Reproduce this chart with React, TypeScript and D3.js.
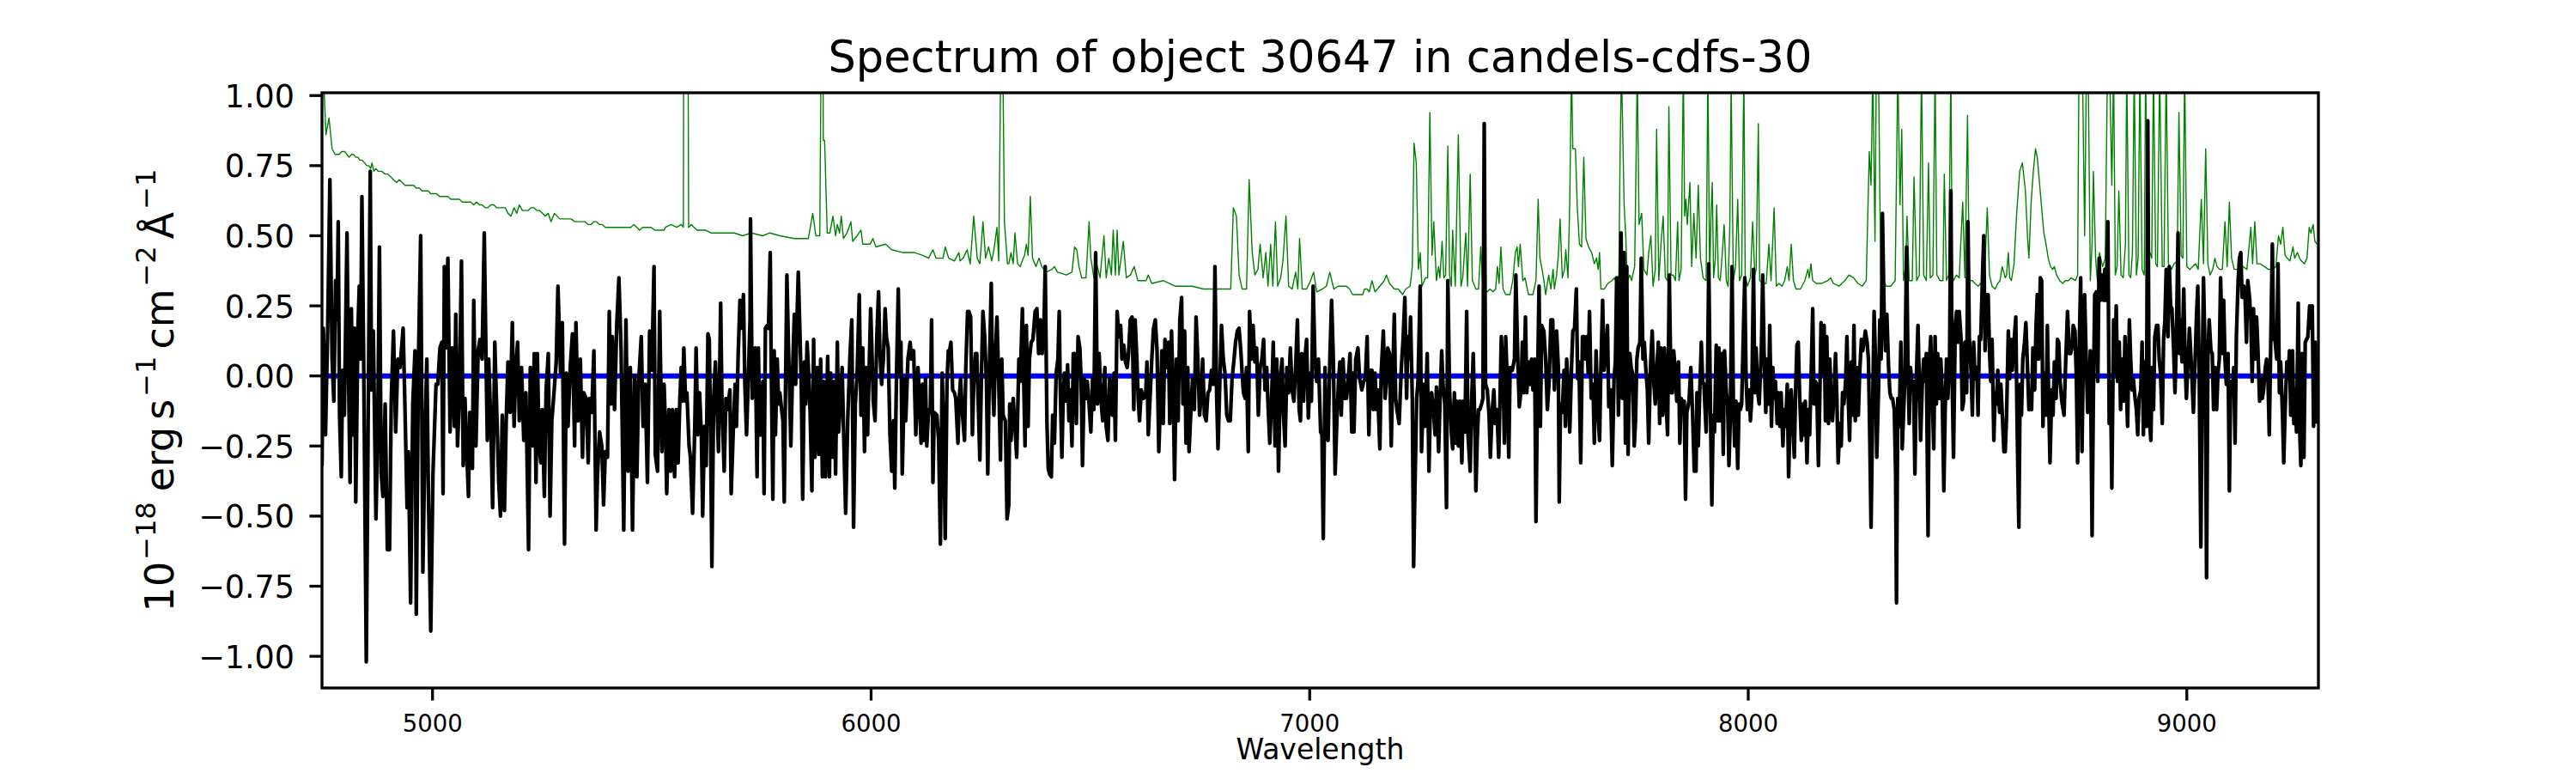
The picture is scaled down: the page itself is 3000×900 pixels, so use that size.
import React from 'react';
import * as d3 from 'd3';

type Pt = [number, number];

// flux (black)
const flux4750: Pt[] = [
  [4748,-0.32],[4751,0.17],[4756,-0.21],[4761,0.17],[4766,0.70],[4771,0.06],[4775,-0.09],[4779,0.34],[4782,0.20],[4785,0.55],
  [4788,-0.14],[4792,-0.36],[4795,0.02],[4799,-0.14],[4805,0.51],[4808,0.06],[4812,-0.38],[4815,0.24],[4818,-0.21],[4822,0.17],
  [4825,-0.45],[4830,0.17],[4833,0.32],[4836,0.06],[4839,0.64],[4843,0.06],[4849,-1.02],[4854,-0.01],[4858,0.73],[4861,-0.05],
  [4865,0.16],[4871,-0.51],[4875,-0.21],[4879,0.46],[4883,-0.35],[4887,-0.43],[4892,-0.10],[4897,-0.62],[4902,-0.62],[4906,-0.08],
  [4911,0.16],[4916,-0.20],[4921,0.06],[4926,0.03],[4929,0.09],[4933,0.17],[4937,-0.10],[4942,-0.47],[4945,-0.27],[4950,-0.81],
  [4955,-0.10],[4960,0.09],[4963,-0.85],[4968,0.06],[4973,0.50],[4978,-0.70],[4983,-0.21],[4987,0.06],[4991,-0.46],[4996,-0.91],
  [5001,-0.35],[5008,-0.03],[5012,-0.03],[5017,0.10],[5021,0.12],[5024,-0.42],[5027,0.39],[5031,0.10],[5035,0.42],[5040,-0.20],
  [5045,0.10],[5050,-0.18],[5053,0.22],[5057,-0.25],[5061,-0.09],[5066,0.41],[5070,-0.32],[5074,-0.08],[5078,-0.27],[5082,-0.43],
  [5085,-0.13],[5091,-0.33],[5094,0.27],[5099,-0.25],[5104,0.09],[5108,0.13],[5113,0.06],[5118,0.51],[5122,0.06],[5125,-0.23],
  [5128,0.06],[5133,-0.17],[5137,-0.47],[5142,0.12],[5146,-0.10],[5151,-0.38],[5155,-0.50],[5159,-0.14],[5164,-0.48],[5168,-0.16],
  [5172,0.05],[5177,-0.13],[5182,0.19],[5186,-0.18],[5190,0.03],[5194,0.12],[5198,-0.16],[5203,0.03],[5208,-0.23],[5213,-0.06],
  [5219,-0.62],[5223,0.03],[5228,-0.25],[5232,0.08],[5236,-0.38],[5239,0.08],[5243,-0.25],[5247,-0.31],[5250,-0.12],[5255,-0.43],
  [5259,-0.05],[5264,0.08],[5268,-0.50],[5272,-0.16],[5277,-0.06],[5282,0.05],[5286,0.32],[5292,0.01],[5296,0.19],[5301,-0.60],
  [5305,0.01],[5309,-0.18],[5314,0.03],[5319,0.15],[5324,-0.25],[5327,0.19],[5332,-0.16],[5337,0.06],[5342,-0.29],[5345,-0.06],
  [5350,-0.08],[5355,-0.31],[5358,-0.08],[5363,-0.13],[5368,0.09],[5373,-0.55],[5376,-0.36],[5381,-0.20],[5386,-0.25],[5390,-0.46],
  [5394,-0.27],[5399,-0.29],[5403,0.23],[5407,-0.10],[5410,0.14],[5415,-0.12],[5420,0.18],[5425,0.35],[5430,0.09],[5436,-0.55],
  [5441,0.20],[5446,-0.34],[5451,0.03],[5456,-0.55],[5461,0.00],[5466,-0.36],[5470,-0.02],[5476,0.14],[5480,-0.18],[5485,-0.03],
  [5490,-0.38],[5495,0.16],[5500,0.02],[5505,0.39],[5508,-0.28],[5513,-0.34],[5518,0.23],[5523,-0.27],[5528,-0.03],
];

const flux5530: Pt[] = [
  [5531,-0.18],[5534,-0.42],[5539,-0.12],[5543,-0.34],[5547,-0.12],[5552,-0.36],[5556,-0.12],[5560,-0.31],[5564,-0.08],[5567,0.03],
  [5570,-0.09],[5573,0.10],[5577,-0.09],[5580,-0.06],[5585,-0.25],[5588,-0.29],[5593,-0.49],[5598,-0.18],[5601,0.10],[5605,-0.21],
  [5609,-0.06],[5613,-0.21],[5616,-0.50],[5620,-0.18],[5624,-0.32],[5628,0.15],[5631,0.13],[5634,-0.21],[5637,-0.68],[5641,-0.08],
  [5645,0.05],[5648,-0.08],[5652,-0.27],[5657,0.26],[5660,-0.10],[5665,-0.34],[5669,-0.08],[5673,-0.12],[5678,-0.05],[5681,-0.42],
  [5686,-0.18],[5690,-0.03],[5693,-0.18],[5697,0.08],[5701,0.27],[5705,0.17],[5709,0.29],[5712,-0.02],[5716,-0.21],[5719,-0.06],
  [5724,0.20],[5725,0.56],[5729,-0.08],[5732,0.09],[5736,0.10],[5740,-0.36],[5743,0.10],[5746,-0.21],[5750,-0.21],[5753,-0.02],
  [5756,-0.42],[5759,0.17],[5763,0.18],[5766,0.17],[5770,0.44],[5772,0.08],[5776,-0.44],[5779,0.09],[5782,-0.21],[5786,0.06],
  [5789,-0.10],[5792,-0.06],[5796,-0.12],[5799,-0.16],[5802,-0.45],[5805,-0.02],[5808,0.36],[5812,0.08],[5817,-0.25],[5821,0.02],
  [5825,0.22],[5828,-0.03],[5831,0.20],[5834,0.37],[5838,0.14],[5841,-0.05],[5844,-0.44],[5848,0.05],[5851,-0.10],[5854,0.12],
  [5857,0.03],[5861,-0.13],[5865,-0.41],[5869,0.13],[5872,-0.29],[5877,0.03],[5881,-0.28],[5885,0.06],[5889,-0.36],[5892,-0.02],
  [5896,-0.36],[5901,0.07],[5905,-0.36],[5908,0.01],[5913,-0.29],[5916,-0.02],[5919,-0.35],[5923,0.12],[5926,-0.20],[5929,-0.12],
  [5934,0.03],[5937,-0.18],[5942,-0.49],[5947,-0.14],[5952,0.08],[5956,0.20],[5960,-0.54],[5964,-0.10],[5968,0.00],[5973,0.29],
  [5977,-0.14],[5981,0.10],[5985,-0.27],[5988,0.03],[5992,-0.21],[5996,0.05],[5999,0.24],[6002,0.08],[6005,-0.09],[6009,-0.16],
  [6013,0.14],[6017,0.30],[6020,0.09],[6024,-0.03],[6028,0.06],[6032,0.24],[6035,0.14],[6039,0.10],[6043,-0.21],[6047,-0.34],
  [6051,-0.16],[6054,-0.40],[6058,0.01],[6062,0.31],[6065,0.01],[6068,0.12],[6071,-0.35],[6076,-0.01],[6079,-0.16],[6084,0.06],
  [6089,0.12],[6092,0.06],[6097,0.09],[6102,-0.21],[6107,0.03],[6110,-0.08],[6114,-0.24],[6117,-0.03],[6120,-0.23],[6124,-0.01],
  [6127,-0.25],[6131,-0.12],[6135,-0.13],[6138,0.20],[6141,-0.38],[6144,-0.13],[6150,-0.14],[6154,-0.23],[6158,-0.60],[6162,0.01],
  [6165,-0.16],[6169,-0.58],[6173,-0.03],[6176,0.09],[6179,0.09],[6182,0.12],[6186,-0.05],[6190,-0.06],[6193,-0.08],[6198,-0.24],
  [6201,-0.08],[6204,-0.01],[6208,-0.13],[6213,-0.23],[6216,0.03],[6220,0.23],[6223,0.23],[6227,0.21],[6231,-0.21],[6234,-0.03],
  [6238,0.08],[6241,0.08],[6244,-0.08],[6248,-0.30],[6252,0.03],[6255,0.23],[6259,0.14],[6263,-0.02],[6266,-0.35],[6270,0.05],
  [6274,0.33],[6277,-0.02],[6280,-0.14],[6283,0.06],[6287,0.21],[6291,-0.02],[6295,-0.30],[6298,0.06],[6301,-0.14],[6306,-0.16],
  [6310,-0.51],
];

const flux6310: Pt[] = [
  [6314,-0.46],[6316,-0.10],[6319,-0.23],[6324,-0.08],[6328,-0.18],[6332,-0.29],[6337,0.06],[6340,-0.02],[6345,0.24],[6348,-0.02],
  [6351,-0.25],[6354,0.18],[6358,-0.18],[6361,0.06],[6365,0.12],[6369,0.13],[6374,0.23],[6378,0.24],[6382,0.08],[6386,0.20],
  [6390,0.08],[6394,0.17],[6397,0.39],[6401,-0.17],[6404,-0.33],[6407,-0.35],[6411,-0.36],[6414,-0.14],[6418,-0.24],[6422,0.01],
  [6426,0.06],[6429,0.23],[6431,-0.02],[6435,-0.29],[6438,-0.08],[6441,0.01],[6445,-0.09],[6448,0.04],[6451,-0.16],[6454,-0.05],
  [6458,-0.25],[6461,0.08],[6464,0.08],[6468,-0.17],[6472,0.14],[6476,0.10],[6479,-0.02],[6482,-0.32],[6486,-0.01],[6489,-0.08],
  [6493,-0.02],[6497,-0.10],[6501,-0.20],[6505,-0.01],[6508,-0.12],[6512,0.44],[6516,-0.10],[6520,0.08],[6524,-0.08],[6528,-0.16],
  [6533,0.03],[6536,-0.18],[6540,-0.23],[6544,-0.01],[6547,-0.02],[6550,-0.14],[6554,0.01],[6557,-0.23],[6561,0.23],[6565,0.14],
  [6569,0.18],[6572,0.06],[6576,0.11],[6580,0.05],[6584,0.03],[6587,0.08],[6591,0.20],[6595,0.21],[6599,-0.12],[6602,0.20],
  [6606,0.06],[6609,-0.08],[6612,-0.16],[6616,-0.05],[6621,-0.08],[6626,-0.07],[6629,0.05],[6632,-0.21],[6636,-0.08],[6640,0.06],
  [6644,0.17],[6648,0.20],[6652,0.09],[6656,-0.27],[6660,-0.08],[6663,0.09],[6666,-0.17],[6670,0.13],[6674,0.03],[6678,0.12],
  [6681,-0.17],[6685,0.16],[6689,-0.08],[6692,-0.37],[6696,0.06],[6700,-0.16],[6704,0.20],[6708,0.28],[6711,-0.10],[6715,0.16],
  [6718,-0.24],[6722,0.03],[6725,-0.27],[6729,-0.13],[6733,-0.01],[6737,-0.12],[6741,0.21],[6745,0.06],[6749,-0.14],[6753,-0.06],
  [6756,0.06],[6760,-0.14],[6764,-0.16],[6768,-0.06],[6772,-0.05],[6776,0.02],[6781,-0.03],[6784,0.39],[6788,-0.08],[6791,-0.26],
  [6795,-0.03],[6799,0.18],[6803,0.06],[6807,0.01],[6811,-0.14],[6815,-0.16],[6819,-0.16],[6823,-0.01],[6827,0.05],[6831,0.12],
  [6835,0.16],[6839,0.17],[6843,0.09],[6846,0.01],[6849,-0.06],[6853,-0.08],[6856,0.03],[6860,-0.27],[6863,0.23],[6867,0.06],
  [6871,0.18],[6875,0.05],[6879,0.10],[6883,-0.14],[6887,0.03],[6891,0.06],[6895,0.13],[6898,-0.05],[6902,0.03],[6905,-0.10],
  [6909,-0.24],[6913,-0.09],[6917,0.12],[6921,-0.25],[6925,0.06],[6929,-0.34],[6933,-0.01],[6937,0.06],[6940,-0.13],[6944,-0.25],
  [6948,0.03],[6952,-0.06],[6956,0.10],[6960,-0.05],[6964,-0.09],[6968,0.03],[6972,0.20],[6976,-0.12],[6979,-0.16],[6982,0.08],
  [6986,-0.09],[6989,0.06],[6993,0.13],[6997,-0.15],[7001,0.01],[7004,-0.09],[7008,0.32],[7012,0.06],[7016,-0.02],[7020,0.06],
  [7025,-0.20],[7028,-0.21],[7031,-0.58],[7035,0.03],[7038,-0.21],[7042,-0.23],[7046,0.06],[7050,0.27],[7054,0.06],[7058,-0.35],
  [7062,-0.16],[7066,-0.01],[7069,0.05],[7072,-0.14],[7076,0.06],[7080,-0.08],[7084,-0.08],[7088,-0.01],[7092,0.08],[7096,-0.20],
];

const flux7100: Pt[] = [
  [7098,0.01],[7101,-0.20],[7105,0.06],[7110,0.10],[7114,-0.01],[7119,-0.05],[7123,-0.02],[7127,-0.01],[7131,0.14],[7135,-0.21],
  [7138,0.02],[7142,0.02],[7145,-0.12],[7149,0.01],[7152,-0.12],[7155,-0.05],[7160,-0.26],[7163,0.01],[7168,0.16],[7172,-0.08],
  [7175,-0.02],[7178,0.10],[7182,0.08],[7186,-0.25],[7189,-0.02],[7193,0.22],[7196,-0.08],[7199,-0.12],[7204,-0.17],[7209,0.03],
  [7213,0.13],[7217,0.28],[7221,-0.08],[7224,0.14],[7227,0.06],[7230,0.21],[7234,-0.08],[7237,-0.68],[7240,-0.40],[7244,-0.08],
  [7247,-0.02],[7252,0.32],[7255,-0.27],[7260,-0.03],[7263,-0.18],[7268,0.08],[7272,-0.34],[7275,-0.12],[7278,-0.06],[7282,-0.12],
  [7286,-0.21],[7289,-0.04],[7294,-0.27],[7297,-0.10],[7301,0.09],[7304,-0.03],[7308,-0.10],[7312,-0.47],[7315,0.34],[7319,-0.05],
  [7323,-0.20],[7326,-0.26],[7330,-0.06],[7333,-0.24],[7336,-0.09],[7339,-0.25],[7343,-0.09],[7347,-0.31],[7350,-0.09],[7354,-0.20],
  [7358,0.23],[7361,-0.21],[7366,-0.34],[7369,-0.10],[7373,0.08],[7377,-0.21],[7379,-0.41],[7382,-0.23],[7385,-0.12],[7388,-0.12],
  [7392,-0.10],[7395,-0.08],[7398,0.90],[7401,-0.03],[7405,-0.05],[7409,-0.14],[7412,-0.29],[7416,-0.13],[7420,-0.05],[7423,-0.17],
  [7427,-0.12],[7431,-0.29],[7434,-0.08],[7437,0.14],[7441,0.01],[7444,-0.24],[7447,0.14],[7450,0.00],[7454,-0.29],[7457,0.03],
  [7462,0.02],[7467,0.06],[7470,0.36],[7475,0.03],[7478,-0.11],[7482,-0.05],[7485,0.12],[7488,-0.06],[7492,0.21],[7495,-0.06],
  [7499,0.05],[7503,-0.03],[7506,0.06],[7509,-0.05],[7513,0.06],[7516,-0.52],[7520,0.02],[7523,0.32],[7526,-0.18],[7529,0.18],
  [7534,0.16],[7538,0.06],[7542,-0.12],[7546,-0.02],[7550,0.20],[7554,0.20],[7558,-0.05],[7563,0.16],[7567,0.03],[7569,-0.45],
  [7572,-0.10],[7576,-0.13],[7580,0.02],[7583,-0.18],[7586,0.06],[7589,-0.02],[7593,-0.20],[7597,0.03],[7600,0.16],[7604,0.17],
  [7608,0.31],[7611,-0.01],[7614,0.05],[7618,-0.31],[7622,0.14],[7625,0.14],[7629,0.06],[7632,0.14],[7635,0.01],[7638,0.23],
  [7642,-0.08],[7646,-0.03],[7649,-0.24],[7653,0.09],[7657,-0.12],[7661,-0.23],[7664,0.03],[7668,0.27],[7671,0.02],[7675,0.08],
  [7679,0.18],[7682,-0.11],[7686,-0.05],[7690,-0.32],[7694,-0.01],[7697,0.05],[7700,0.35],[7704,-0.14],[7707,0.13],[7710,0.51],
  [7713,-0.08],[7717,0.44],[7720,-0.24],[7723,0.39],[7726,-0.28],[7730,0.08],[7733,0.03],[7736,0.01],[7740,-0.25],[7743,-0.16],
  [7746,0.06],[7749,0.10],[7753,0.12],[7756,0.42],[7760,0.06],[7763,0.12],[7767,0.01],[7770,-0.05],[7773,-0.24],[7777,0.03],
  [7781,0.16],[7785,-0.03],[7788,-0.10],[7792,0.04],[7795,0.12],[7798,-0.17],[7801,0.10],[7805,-0.14],[7809,0.10],[7813,-0.10],
  [7816,-0.21],[7820,0.36],[7824,-0.06],[7827,-0.06],[7830,0.09],[7834,0.01],[7837,-0.09],[7841,0.05],[7844,-0.24],[7847,-0.08],
  [7850,-0.09],[7854,-0.09],[7857,-0.44],[7860,-0.13],[7865,-0.09],[7869,0.03],[7873,-0.13],[7877,-0.34],
];

const flux7880: Pt[] = [
  [7881,-0.34],[7883,-0.06],[7886,-0.25],[7889,-0.08],[7893,0.12],[7896,-0.02],[7899,-0.03],[7904,-0.20],[7907,-0.02],[7910,0.40],
  [7914,-0.14],[7917,-0.46],[7920,-0.14],[7923,-0.20],[7927,0.11],[7930,-0.16],[7933,0.10],[7936,-0.16],[7940,0.08],[7943,-0.28],
  [7946,0.09],[7950,-0.06],[7953,-0.10],[7956,-0.32],[7959,-0.16],[7963,0.39],[7966,-0.08],[7969,-0.25],[7972,-0.09],[7976,-0.33],
  [7979,-0.10],[7982,-0.12],[7985,-0.10],[7989,0.16],[7992,0.35],[7995,-0.01],[7998,-0.12],[8002,-0.05],[8005,-0.16],[8008,-0.08],
  [8012,0.38],[8015,-0.06],[8018,0.10],[8021,-0.05],[8025,-0.10],[8030,0.10],[8033,0.36],[8036,0.09],[8040,-0.13],[8043,0.06],
  [8046,-0.10],[8049,0.18],[8053,-0.18],[8056,0.03],[8059,-0.08],[8062,-0.02],[8066,-0.17],[8069,-0.06],[8072,-0.18],[8075,-0.06],
  [8079,-0.25],[8082,-0.12],[8085,-0.18],[8089,-0.03],[8092,-0.36],[8095,-0.17],[8098,-0.05],[8102,-0.18],[8105,-0.29],[8108,-0.05],
  [8111,0.11],[8114,0.12],[8117,-0.06],[8121,-0.23],[8124,-0.10],[8127,-0.21],[8130,-0.09],[8134,-0.31],[8137,-0.12],[8140,-0.21],
  [8143,-0.02],[8147,0.24],[8150,-0.10],[8153,-0.02],[8156,-0.03],[8160,-0.32],[8163,-0.09],[8166,0.19],[8169,0.01],[8173,0.18],
  [8176,-0.16],[8179,0.14],[8183,-0.17],[8186,0.06],[8189,-0.10],[8192,-0.16],[8196,-0.05],[8199,0.08],[8202,-0.08],[8205,-0.31],
  [8209,-0.17],[8212,-0.25],[8215,-0.06],[8218,-0.10],[8222,-0.02],[8225,0.14],[8228,-0.08],[8231,-0.23],[8235,0.05],[8238,-0.14],
  [8241,0.18],[8244,-0.16],[8248,0.03],[8251,-0.14],[8254,0.01],[8258,0.13],[8261,0.09],[8264,0.12],[8267,0.16],[8271,0.12],
  [8274,0.06],[8277,-0.21],[8280,-0.54],[8284,-0.08],[8287,0.23],[8290,0.06],[8293,-0.29],[8297,-0.05],[8300,0.20],[8303,0.06],
  [8306,0.58],[8310,0.20],[8313,0.09],[8316,0.22],[8320,0.03],[8323,-0.06],[8326,-0.08],[8329,-0.08],[8333,-0.12],[8336,-0.35],
  [8338,-0.81],[8341,-0.08],[8344,-0.18],[8348,0.12],[8351,-0.26],[8354,-0.14],[8357,-0.02],[8361,0.46],[8364,0.06],[8367,-0.17],
  [8370,0.03],[8374,-0.05],[8377,-0.02],[8380,-0.35],[8383,-0.02],[8387,0.18],[8390,-0.02],[8393,-0.23],[8397,-0.02],[8400,0.06],
  [8403,-0.02],[8406,0.08],[8410,-0.57],[8413,0.05],[8416,0.14],[8419,-0.03],[8423,-0.26],[8426,0.14],[8429,-0.10],[8432,0.08],
  [8436,-0.08],[8439,0.06],[8442,-0.05],[8446,-0.41],[8449,-0.12],[8452,0.06],[8455,-0.08],[8459,0.06],[8462,0.66],[8465,-0.02],
  [8468,-0.29],[8472,0.18],[8475,0.23],[8478,0.12],[8481,0.23],[8485,0.14],[8488,-0.12],[8491,-0.09],[8494,0.12],[8498,-0.06],
  [8501,0.55],[8504,0.14],[8508,0.02],[8511,-0.14],[8514,0.12],[8517,-0.01],[8521,0.03],[8524,-0.14],[8527,0.14],[8530,0.13],
  [8534,0.35],[8537,0.50],[8540,0.09],[8543,0.29],[8547,0.29],[8550,0.09],[8553,-0.02],[8556,0.13],[8560,-0.23],[8563,-0.06],
  [8566,-0.10],[8569,0.02],[8573,-0.13],[8576,-0.03],[8579,-0.13],[8583,-0.27],
];

const flux8590: Pt[] = [
  [8586,-0.27],[8589,-0.14],[8593,0.16],[8596,-0.01],[8599,0.13],[8602,0.02],[8606,0.12],[8610,0.21],[8613,-0.17],[8617,-0.54],
  [8620,-0.03],[8623,-0.14],[8626,0.06],[8630,0.12],[8633,0.19],[8636,0.06],[8640,-0.12],[8643,-0.09],[8646,-0.12],[8649,0.10],
  [8653,-0.05],[8656,0.17],[8659,0.29],[8662,0.06],[8666,0.35],[8669,0.34],[8672,-0.18],[8675,0.01],[8679,-0.14],[8682,0.18],
  [8685,-0.08],[8688,-0.31],[8692,-0.05],[8695,-0.14],[8698,0.05],[8702,-0.08],[8705,0.13],[8708,0.12],[8711,-0.02],[8715,-0.09],
  [8720,-0.14],[8724,0.06],[8728,0.23],[8732,0.08],[8735,0.08],[8738,0.10],[8741,0.18],[8745,0.16],[8748,0.00],[8751,-0.31],
  [8754,0.06],[8758,0.35],[8761,-0.27],[8764,0.08],[8767,0.29],[8771,0.03],[8774,-0.13],[8777,-0.06],[8780,0.09],[8784,-0.57],
  [8787,-0.06],[8790,0.29],[8794,0.30],[8797,-0.02],[8800,0.42],[8803,0.27],[8807,0.36],[8810,0.27],[8813,0.38],[8816,0.27],
  [8820,0.55],[8823,-0.17],[8826,-0.02],[8829,-0.40],[8833,0.20],[8836,0.01],[8839,0.25],[8842,-0.02],[8846,0.12],[8849,-0.12],
  [8852,0.06],[8856,-0.09],[8859,0.14],[8862,-0.03],[8865,-0.18],[8869,0.20],[8872,0.06],[8875,-0.05],[8878,-0.01],[8882,-0.08],
  [8885,-0.12],[8888,-0.21],[8891,-0.08],[8895,-0.05],[8898,0.12],[8901,-0.21],[8904,0.05],[8908,-0.18],[8911,0.91],[8914,-0.14],
  [8918,-0.23],[8921,0.03],[8924,-0.12],[8927,0.14],[8931,0.18],[8934,0.18],[8937,0.06],[8940,0.01],[8944,-0.17],[8947,0.13],
  [8950,0.20],[8953,0.38],[8957,0.14],[8960,0.39],[8963,0.25],[8966,0.24],[8970,0.09],[8973,-0.06],[8976,0.12],[8980,0.51],
  [8983,0.08],[8986,0.20],[8989,0.05],[8993,0.31],[8996,0.06],[8999,-0.08],[9002,0.03],[9006,0.17],[9009,0.08],[9012,-0.02],
  [9015,-0.13],[9019,0.06],[9022,0.21],[9025,0.32],[9028,0.05],[9032,-0.61],[9035,-0.02],[9038,0.35],[9042,0.05],[9045,-0.72],
  [9048,0.06],[9051,0.20],[9055,0.09],[9058,0.08],[9061,-0.12],[9064,0.03],[9068,-0.12],[9071,0.01],[9074,0.06],[9077,0.35],
  [9081,0.08],[9084,0.27],[9087,0.06],[9090,-0.03],[9094,0.08],[9097,-0.41],[9100,-0.02],[9104,-0.06],[9107,0.03],[9110,-0.24],
  [9113,0.14],[9117,0.34],[9120,0.42],[9123,0.44],[9126,0.28],[9130,0.32],[9133,0.27],[9136,0.12],[9139,0.34],[9143,0.28],
  [9146,0.20],[9149,-0.02],[9152,0.24],[9156,0.06],[9159,0.21],[9162,0.10],[9166,-0.09],[9169,-0.01],[9172,-0.08],[9175,-0.05],
  [9179,0.03],[9182,0.06],[9185,-0.01],[9188,-0.21],[9192,0.18],[9195,0.47],[9198,0.13],[9201,0.13],[9205,0.06],[9208,0.40],
  [9211,-0.06],[9214,0.05],[9218,-0.13],[9221,-0.31],[9224,-0.13],[9228,0.05],[9231,-0.01],[9234,0.09],[9237,-0.14],[9241,0.09],
  [9244,-0.17],[9247,-0.05],[9250,-0.20],[9254,0.26],[9257,-0.18],[9260,-0.32],[9263,0.08],[9267,-0.29],[9270,0.12],[9273,0.13],
  [9276,0.14],[9280,0.25],[9283,0.17],[9286,0.25],[9289,-0.18],[9293,0.12],[9296,-0.17],
];

// error spectrum (green)
const err4750: Pt[] = [
  [4748,1.20],[4752,1.05],[4757,0.86],[4764,0.92],[4771,0.81],[4778,0.79],[4787,0.79],[4793,0.80],[4800,0.80],[4805,0.79],
  [4810,0.78],[4815,0.79],[4820,0.79],[4825,0.78],[4830,0.78],[4834,0.77],[4839,0.77],[4845,0.76],[4850,0.75],[4855,0.75],
  [4859,0.74],[4862,0.76],[4866,0.73],[4871,0.74],[4876,0.73],[4884,0.73],[4892,0.72],[4898,0.72],[4905,0.71],[4911,0.70],
  [4918,0.69],[4924,0.70],[4931,0.69],[4937,0.68],[4944,0.68],[4950,0.68],[4957,0.68],[4963,0.67],[4970,0.67],[4976,0.66],
  [4983,0.66],[4990,0.66],[4996,0.65],[5003,0.65],[5009,0.65],[5016,0.64],[5022,0.64],[5029,0.64],[5035,0.64],[5042,0.63],
  [5048,0.63],[5055,0.63],[5061,0.63],[5068,0.62],[5074,0.62],[5081,0.62],[5087,0.62],[5094,0.61],[5100,0.62],[5107,0.61],
  [5113,0.61],[5120,0.60],[5126,0.60],[5133,0.61],[5140,0.61],[5146,0.60],[5153,0.60],[5160,0.60],[5166,0.60],[5172,0.58],
  [5179,0.57],[5186,0.60],[5192,0.58],[5198,0.61],[5205,0.59],[5211,0.59],[5218,0.59],[5225,0.60],[5231,0.60],[5238,0.59],
  [5244,0.59],[5251,0.58],[5257,0.57],[5264,0.58],[5270,0.55],[5278,0.58],[5284,0.57],[5290,0.56],[5297,0.56],[5303,0.56],
  [5310,0.56],[5316,0.56],[5324,0.55],[5332,0.55],[5340,0.55],[5348,0.55],[5355,0.54],[5361,0.54],[5368,0.55],[5374,0.55],
  [5381,0.54],[5387,0.54],[5394,0.53],[5400,0.53],[5408,0.53],[5416,0.53],[5424,0.53],[5433,0.53],[5440,0.53],[5446,0.53],
  [5452,0.53],[5459,0.54],[5466,0.53],[5472,0.52],[5479,0.53],[5485,0.53],[5492,0.53],[5498,0.53],[5507,0.52],[5515,0.52],
  [5521,0.52],[5528,0.52],
];

const err5530: Pt[] = [
  [5531,0.53],[5544,0.54],[5557,0.53],[5567,0.54],[5572,0.53],[5573,1.5],[5578,2.0],[5582,1.5],[5584,0.53],[5590,0.54],
  [5603,0.52],[5622,0.52],[5635,0.51],[5648,0.51],[5668,0.51],[5688,0.51],[5707,0.50],[5727,0.51],[5753,0.50],[5769,0.51],
  [5792,0.50],[5825,0.49],[5857,0.49],[5867,0.58],[5874,0.50],[5883,0.50],[5889,1.8],[5891,0.84],[5894,0.84],[5900,0.51],
  [5906,0.51],[5913,0.57],[5919,0.50],[5923,0.54],[5928,0.51],[5932,0.57],[5937,0.49],[5945,0.51],[5954,0.55],[5958,0.48],
  [5968,0.50],[5977,0.52],[5981,0.47],[5998,0.47],[6004,0.49],[6011,0.46],[6033,0.47],[6047,0.45],[6073,0.44],[6099,0.44],
  [6118,0.43],[6131,0.42],[6141,0.45],[6148,0.42],[6164,0.42],[6169,0.46],[6177,0.42],[6190,0.41],[6200,0.44],[6203,0.41],
  [6210,0.42],[6219,0.45],[6226,0.40],[6234,0.57],[6242,0.42],[6248,0.40],[6255,0.55],[6261,0.42],[6268,0.46],[6275,0.41],
  [6280,0.45],[6287,0.53],[6291,0.41],[6298,1.5],[6304,0.55],[6311,0.40],
];

const err6310: Pt[] = [
  [6314,0.40],[6319,0.44],[6324,0.40],[6328,0.51],[6334,0.40],[6340,0.39],[6347,0.42],[6350,0.43],[6354,0.47],[6358,0.43],
  [6363,0.64],[6368,0.42],[6376,0.39],[6383,0.42],[6389,0.39],[6399,0.37],[6412,0.38],[6418,0.39],[6425,0.37],[6445,0.36],
  [6458,0.37],[6464,0.46],[6469,0.45],[6474,0.39],[6480,0.35],[6490,0.35],[6497,0.55],[6501,0.42],[6508,0.35],[6516,0.39],
  [6522,0.35],[6531,0.50],[6536,0.35],[6542,0.42],[6548,0.36],[6552,0.52],[6557,0.36],[6561,0.52],[6565,0.36],[6575,0.48],
  [6582,0.35],[6591,0.36],[6600,0.39],[6608,0.34],[6627,0.34],[6632,0.36],[6640,0.33],[6666,0.34],[6693,0.32],[6712,0.32],
  [6732,0.32],[6758,0.31],[6784,0.31],[6820,0.31],[6826,0.60],[6833,0.57],[6839,0.36],[6846,0.31],[6856,0.31],[6862,0.70],
  [6869,0.44],[6875,0.36],[6882,0.38],[6887,0.47],[6894,0.35],[6900,0.44],[6905,0.32],[6911,0.47],[6916,0.32],[6922,0.55],
  [6927,0.32],[6934,0.35],[6939,0.41],[6946,0.57],[6952,0.32],[6960,0.31],[6968,0.37],[6973,0.31],[6977,0.49],[6983,0.31],
  [6993,0.31],[7002,0.34],[7009,0.37],[7016,0.30],[7029,0.31],[7038,0.32],[7046,0.37],[7055,0.31],[7065,0.32],[7074,0.32],
  [7084,0.32],[7091,0.31],
];

const err7100: Pt[] = [
  [7098,0.29],[7111,0.29],[7121,0.29],[7125,0.31],[7131,0.31],[7136,0.30],[7142,0.34],[7149,0.30],[7160,0.32],[7170,0.34],
  [7175,0.36],[7182,0.33],[7193,0.31],[7202,0.31],[7212,0.29],[7219,0.31],[7229,0.32],[7234,0.39],[7238,0.83],[7243,0.76],
  [7248,0.38],[7252,0.44],[7256,0.32],[7264,0.35],[7269,0.35],[7274,0.94],[7279,0.43],[7283,0.55],[7286,0.44],[7289,0.34],
  [7294,0.39],[7297,0.35],[7302,0.48],[7306,0.35],[7310,0.36],[7315,0.82],[7319,0.36],[7323,0.32],[7326,0.52],[7332,0.32],
  [7339,0.86],[7345,0.32],[7349,0.35],[7356,0.51],[7360,0.32],[7366,0.72],[7371,0.34],[7379,0.31],[7385,0.31],[7390,0.46],
  [7395,0.31],[7405,0.30],[7411,0.31],[7418,0.30],[7424,0.31],[7428,0.39],[7432,0.33],[7436,0.46],[7441,0.31],[7447,0.29],
  [7457,0.29],[7463,0.34],[7469,0.44],[7473,0.46],[7476,0.39],[7480,0.47],[7486,0.34],[7491,0.35],[7499,0.29],[7509,0.29],
  [7516,0.34],[7521,0.63],[7525,0.42],[7530,0.38],[7534,0.34],[7538,0.29],[7545,0.36],[7550,0.31],[7555,0.38],[7558,0.31],
  [7563,0.36],[7567,0.43],[7571,0.56],[7576,0.35],[7581,0.38],[7584,0.45],[7589,0.35],[7593,0.62],[7597,1.10],[7600,0.81],
  [7606,0.81],[7610,0.61],[7615,0.47],[7620,0.46],[7625,0.78],[7630,0.49],[7636,0.46],[7643,0.44],[7649,0.40],[7654,0.42],
  [7658,0.38],[7661,0.44],[7664,0.31],[7672,0.31],[7680,0.33],[7689,0.34],[7695,0.35],[7700,0.33],[7705,0.36],[7708,0.82],
  [7711,1.10],[7717,0.61],[7721,0.49],[7724,0.34],[7730,0.36],[7734,0.34],[7741,0.39],[7747,1.10],[7751,0.54],[7757,0.58],
  [7762,0.38],[7769,0.36],[7773,0.44],[7778,0.50],[7783,0.32],[7788,0.38],[7791,0.88],[7796,0.34],[7801,0.47],[7806,0.57],
  [7811,0.35],[7816,0.34],[7819,0.96],[7824,0.36],[7829,0.36],[7834,0.34],[7839,0.55],[7842,0.34],[7847,0.38],[7852,1.10],
  [7855,0.57],[7858,0.63],[7861,0.54],[7867,0.69],[7871,0.39],[7876,0.58],
];

const err7880: Pt[] = [
  [7881,0.42],[7886,0.68],[7891,0.42],[7897,0.35],[7904,0.34],[7908,1.10],[7912,0.34],[7915,0.57],[7918,0.69],[7921,0.35],
  [7925,0.42],[7928,0.61],[7932,0.35],[7936,0.34],[7941,0.44],[7945,0.54],[7950,0.34],[7954,0.32],[7958,0.54],[7961,1.05],
  [7966,0.34],[7971,0.39],[7976,0.63],[7980,0.34],[7985,0.36],[7990,1.10],[7993,0.36],[7998,0.32],[8005,0.35],[8010,0.55],
  [8015,0.36],[8018,0.38],[8023,0.90],[8026,0.34],[8034,0.33],[8041,0.33],[8047,0.47],[8052,0.34],[8059,0.60],[8064,0.32],
  [8070,0.33],[8077,0.32],[8083,0.34],[8089,0.39],[8093,0.34],[8098,0.47],[8103,0.34],[8109,0.31],[8119,0.31],[8129,0.34],
  [8136,0.38],[8139,0.35],[8143,0.40],[8147,0.34],[8155,0.33],[8168,0.33],[8181,0.34],[8188,0.35],[8194,0.33],[8207,0.32],
  [8220,0.34],[8230,0.36],[8240,0.35],[8250,0.33],[8260,0.32],[8269,0.34],[8276,0.80],[8280,0.68],[8284,1.10],[8289,0.48],
  [8292,1.10],[8297,1.10],[8302,0.36],[8308,0.34],[8315,0.32],[8325,0.32],[8335,0.34],[8341,1.10],[8346,0.61],[8350,0.88],
  [8354,0.34],[8359,0.39],[8362,0.57],[8367,0.34],[8374,0.34],[8378,0.71],[8384,0.34],[8390,0.36],[8395,1.10],[8400,0.36],
  [8406,0.34],[8411,0.76],[8415,0.35],[8421,0.36],[8426,1.10],[8430,0.36],[8437,0.34],[8444,0.34],[8447,0.72],[8452,0.34],
  [8457,0.36],[8462,1.10],[8465,0.36],[8468,0.34],[8475,0.36],[8481,0.35],[8489,0.62],[8494,0.35],[8500,0.93],[8504,0.34],
  [8511,0.34],[8517,0.33],[8524,0.32],[8530,0.33],[8537,0.34],[8541,0.44],[8545,0.60],[8550,0.36],[8556,0.32],[8563,0.31],
  [8569,0.33],[8574,0.34],[8579,0.39],
];

const err8590: Pt[] = [
  [8586,0.35],[8589,0.36],[8593,0.44],[8596,0.35],[8600,0.34],[8606,0.40],[8612,0.58],[8619,0.73],[8625,0.76],[8632,0.66],
  [8637,0.49],[8640,0.42],[8645,0.62],[8650,0.73],[8655,0.81],[8659,0.78],[8664,0.69],[8670,0.58],[8674,0.51],[8679,0.47],
  [8684,0.42],[8689,0.39],[8694,0.38],[8698,0.39],[8703,0.36],[8710,0.34],[8717,0.33],[8723,0.34],[8730,0.34],[8736,0.35],
  [8746,0.34],[8751,0.36],[8754,1.10],[8759,1.05],[8762,1.10],[8767,0.50],[8771,1.10],[8775,1.10],[8780,0.34],[8784,0.47],
  [8787,0.73],[8792,0.42],[8796,0.34],[8801,0.44],[8808,0.39],[8814,0.42],[8819,1.10],[8824,1.10],[8829,0.68],[8833,1.10],
  [8837,0.36],[8841,0.39],[8845,0.66],[8850,0.36],[8855,0.35],[8860,0.47],[8863,1.10],[8868,0.36],[8872,0.35],[8876,0.44],
  [8880,1.10],[8885,0.36],[8889,0.42],[8893,1.10],[8898,0.38],[8903,0.36],[8906,1.10],[8911,0.40],[8916,0.44],[8920,0.42],
  [8924,1.10],[8929,0.40],[8933,0.39],[8938,1.10],[8944,0.39],[8948,0.39],[8953,1.10],[8958,0.40],[8965,0.38],[8971,0.40],
  [8978,0.41],[8982,0.94],[8987,0.43],[8991,0.42],[8995,1.10],[9000,0.39],[9007,0.38],[9013,0.39],[9020,0.40],[9026,0.38],
  [9033,0.63],[9038,0.40],[9043,0.81],[9048,0.40],[9053,0.36],[9059,0.38],[9064,0.42],[9069,0.39],[9075,0.38],[9081,0.38],
  [9087,0.55],[9092,0.39],[9097,0.62],[9102,0.42],[9108,0.38],[9118,0.38],[9128,0.39],[9137,0.38],[9146,0.53],[9150,0.40],
  [9155,0.55],[9160,0.40],[9167,0.40],[9177,0.39],[9186,0.38],[9196,0.38],[9203,0.39],[9209,0.50],[9214,0.47],[9219,0.53],
  [9224,0.43],[9229,0.42],[9235,0.41],[9242,0.46],[9246,0.42],[9252,0.44],[9257,0.42],[9261,0.41],[9268,0.40],[9274,0.42],
  [9279,0.53],[9283,0.51],[9288,0.54],[9292,0.48],[9297,0.47],
];

const xTicks = [5000, 6000, 7000, 8000, 9000];
const yTicks = [-1, -0.75, -0.5, -0.25, 0, 0.25, 0.5, 0.75, 1];
const titleText = 'Spectrum of object 30647 in candels-cdfs-30';
const xLabel = 'Wavelength';

const W = 3000;
const H = 900;
const left = 375;
const right = 2700;
const top = 108;
const bottom = 801;
const font = '"DejaVu Sans", sans-serif';

export default function App() {
  const flux = [...flux4750, ...flux5530, ...flux6310, ...flux7100, ...flux7880, ...flux8590];
  const err = [...err4750, ...err5530, ...err6310, ...err7100, ...err7880, ...err8590];

  const x = d3.scaleLinear().domain([4748, 9300]).range([left, right]);
  const y = d3.scaleLinear().domain([-1.113, 1.01]).range([bottom, top]);

  const line = d3.line<Pt>()
    .x(d => x(d[0]))
    .y(d => y(d[1]));

  const fmt = (v: number) => (v < 0 ? '\u2212' : '') + Math.abs(v).toFixed(2);

  return (
    <svg
      width={W}
      height={H}
      style={{ position: 'absolute', left: 0, top: 0, background: '#fff' }}
      fontFamily={font}
    >
      <defs>
        <clipPath id="plot-area">
          <rect x={left} y={top} width={right - left} height={bottom - top} />
        </clipPath>
      </defs>

      <g clipPath="url(#plot-area)">
        <path d={line(err) ?? ''} fill="none" stroke="#008000" strokeWidth={1.4} strokeLinejoin="round" />
        <line x1={left} x2={right} y1={y(0)} y2={y(0)} stroke="#0000ff" strokeWidth={6} />
        <path d={line(flux) ?? ''} fill="none" stroke="#000" strokeWidth={4.3} strokeLinejoin="round" />
      </g>

      <rect x={left} y={top} width={right - left} height={bottom - top} fill="none" stroke="#000" strokeWidth={3.3} />

      {/* y axis */}
      {yTicks.map(t => (
        <g key={t}>
          <line x1={left - 14.6} x2={left} y1={y(t)} y2={y(t)} stroke="#000" strokeWidth={3.3} />
          <text x={left - 32} y={y(t)} dy="0.37em" textAnchor="end" fontSize={36.5}>{fmt(t)}</text>
        </g>
      ))}

      {/* x axis */}
      {xTicks.map(t => (
        <g key={t}>
          <line x1={x(t)} x2={x(t)} y1={bottom} y2={bottom + 14.6} stroke="#000" strokeWidth={3.3} />
          <text x={x(t)} y={852} textAnchor="middle" fontSize={27.5}>{t}</text>
        </g>
      ))}

      <text x={(left + right) / 2} y={884} textAnchor="middle" fontSize={33}>{xLabel}</text>
      <text x={(left + right) / 2} y={83.5} textAnchor="middle" fontSize={51}>{titleText}</text>

      <text transform={`translate(201.7,${(top + bottom) / 2}) rotate(-90)`} textAnchor="middle" fontSize={46}>
        <tspan>10</tspan>
        <tspan fontSize={32} dy={-21} dx={2}>{'\u221218'}</tspan>
        <tspan dy={21} dx={12}>erg</tspan>
        <tspan dx={8}>s</tspan>
        <tspan fontSize={32} dy={-21} dx={3}>{'\u22121'}</tspan>
        <tspan dy={21} dx={8}>cm</tspan>
        <tspan fontSize={32} dy={-21} dx={3}>{'\u22122'}</tspan>
        <tspan dy={21} dx={8}>Å</tspan>
        <tspan fontSize={32} dy={-21} dx={3}>{'\u22121'}</tspan>
      </text>
    </svg>
  );
}
